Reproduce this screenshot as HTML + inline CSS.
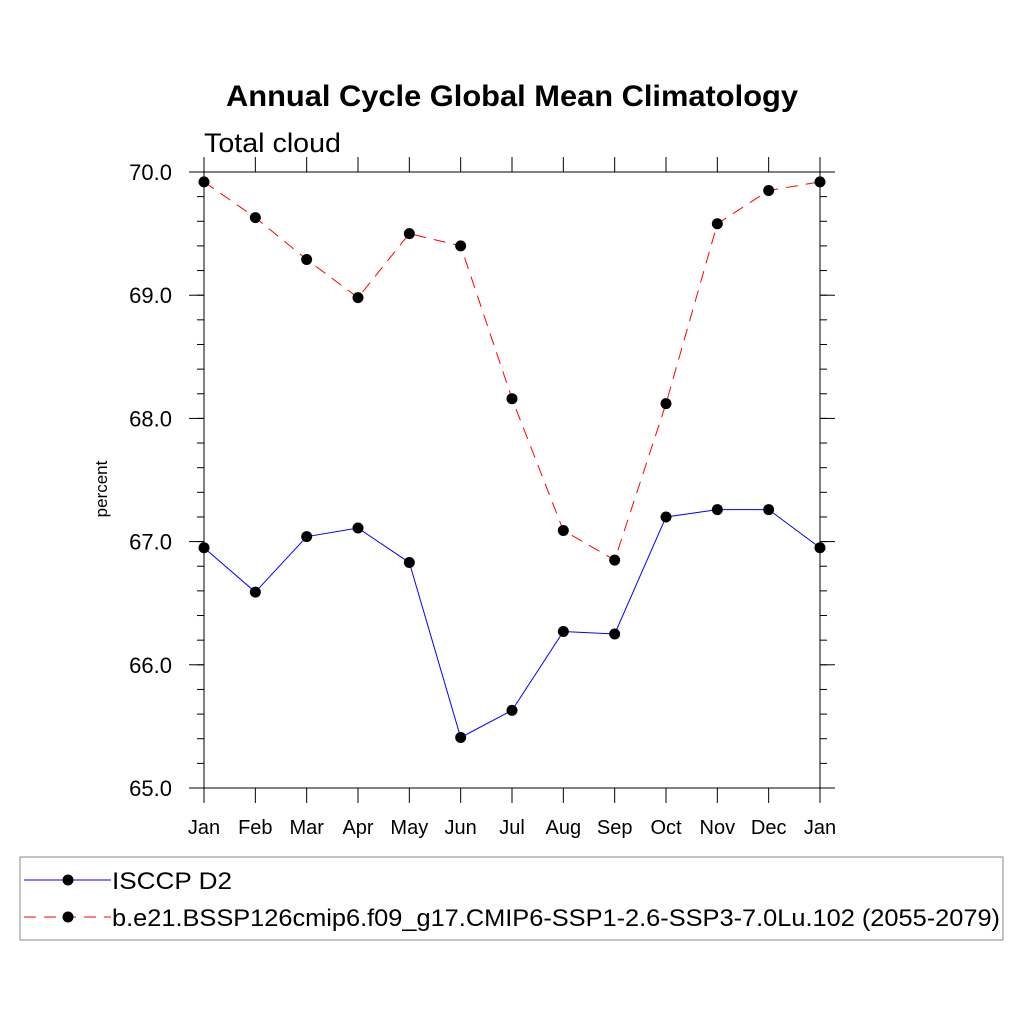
<!DOCTYPE html>
<html><head><meta charset="utf-8"><style>
html,body{margin:0;padding:0;background:#fff;}
svg{display:block;font-family:"Liberation Sans",sans-serif;}
</style></head><body>
<svg id="chart" width="1024" height="1024" viewBox="0 0 1024 1024">
<text x="512" y="106" text-anchor="middle" font-size="30" font-weight="bold" textLength="572" lengthAdjust="spacingAndGlyphs">Annual Cycle Global Mean Climatology</text>
<text x="204" y="152" font-size="27" textLength="137" lengthAdjust="spacingAndGlyphs">Total cloud</text>
<text transform="translate(107,489) rotate(-90)" text-anchor="middle" font-size="17">percent</text>
<g id="axes"></g>
<g id="series"></g>
<rect x="20" y="857" width="983" height="83" fill="none" stroke="#888" stroke-width="1"/>
<g>
<line x1="24" y1="880" x2="111" y2="880" stroke="#00f" stroke-width="1"/>
<circle cx="68" cy="880" r="5.5" fill="#000"/>
<text x="112" y="889" font-size="24" textLength="120" lengthAdjust="spacingAndGlyphs">ISCCP D2</text>
</g>
<g>
<line x1="24" y1="917" x2="111" y2="917" stroke="#f00" stroke-width="1" stroke-dasharray="12,8"/>
<circle cx="68" cy="917" r="5.5" fill="#000"/>
<text x="112" y="926" font-size="24" textLength="888" lengthAdjust="spacingAndGlyphs">b.e21.BSSP126cmip6.f09_g17.CMIP6-SSP1-2.6-SSP3-7.0Lu.102 (2055-2079)</text>
</g>
</svg>
<script>
const months = ["Jan","Feb","Mar","Apr","May","Jun","Jul","Aug","Sep","Oct","Nov","Dec","Jan"];
const yTicks = [65.0,66.0,67.0,68.0,69.0,70.0];
const isccp = [66.95,66.59,67.04,67.11,66.83,65.41,65.63,66.27,66.25,67.20,67.26,67.26,66.95];
const model = [69.92,69.63,69.29,68.98,69.50,69.40,68.16,67.09,66.85,68.12,69.58,69.85,69.92];
const X0=204,X1=820,Y0=788,Y1=172,YMIN=65,YMAX=70;
function xs(i){return X0+(X1-X0)*i/(months.length-1);}
function ys(v){return Y0-(v-YMIN)/(YMAX-YMIN)*(Y0-Y1);}
const NS="http://www.w3.org/2000/svg";
function mk(tag,at,parent){const e=document.createElementNS(NS,tag);for(const k in at)e.setAttribute(k,at[k]);parent.appendChild(e);return e;}
const ax=document.getElementById('axes');
const sr=document.getElementById('series');
const L={stroke:"#000","stroke-width":1};
let e;
e=mk('line',Object.assign({x1:X0,y1:Y1-15,x2:X0,y2:Y0+15},L),ax);

e=mk('line',Object.assign({x1:X1,y1:Y1-15,x2:X1,y2:Y0+15},L),ax);

e=mk('line',Object.assign({x1:X0-15,y1:Y0,x2:X1+15,y2:Y0},L),ax);

e=mk('line',Object.assign({x1:X0-15,y1:Y1,x2:X1+15,y2:Y1},L),ax);

months.forEach((m,i)=>{
  const x=xs(i);
  mk('line',Object.assign({x1:x,y1:Y1-15,x2:x,y2:Y1},L),ax);
  mk('line',Object.assign({x1:x,y1:Y0,x2:x,y2:Y0+15},L),ax);
  const t=mk('text',{x:x,y:834,"text-anchor":"middle","font-size":20},ax);
  t.textContent=m;
  
  
});
for(let v=YMIN;v<=YMAX+1e-6;v+=0.2){
  const y=ys(v);
  mk('line',Object.assign({x1:X0-7,y1:y,x2:X0,y2:y},L),ax);
  mk('line',Object.assign({x1:X1,y1:y,x2:X1+7,y2:y},L),ax);
}
yTicks.forEach(v=>{
  const y=ys(v);
  mk('line',Object.assign({x1:X0-15,y1:y,x2:X0,y2:y},L),ax);
  mk('line',Object.assign({x1:X1,y1:y,x2:X1+15,y2:y},L),ax);
  const t=mk('text',{x:172,y:y+8,"text-anchor":"end","font-size":22},ax);
  t.textContent=v.toFixed(1);
  
  
});
function drawSeries(vals,color,dash,name){
  const pts=vals.map((v,i)=>xs(i)+","+ys(v)).join(" ");
  const p=mk('polyline',{points:pts,fill:"none",stroke:color,"stroke-width":1,"stroke-dasharray":dash},sr);
  
  
  vals.forEach((v,i)=>{
    const c=mk('circle',{cx:xs(i),cy:ys(v),r:5.5,fill:"#000"},sr);
    
    
  });
}
drawSeries(model,"#f00","12,8","model");
drawSeries(isccp,"#00f","none","isccp");
</script>
</body></html>
